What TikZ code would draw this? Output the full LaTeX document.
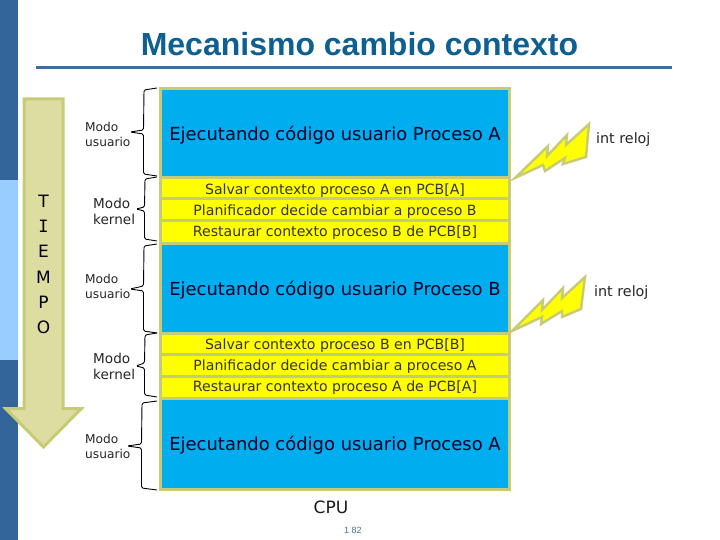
\documentclass[tikz,border=0pt]{standalone}
\usepackage{fontspec}
\setmainfont{DejaVu Sans}
\newfontfamily\arialf{Liberation Sans}
\newfontfamily\monof{DejaVu Sans Mono}
\definecolor{bandD}{HTML}{33659A}
\definecolor{bandL}{HTML}{99CCFF}
\definecolor{rule}{HTML}{3F6F99}
\definecolor{titlec}{HTML}{0F6090}
\definecolor{khaki}{HTML}{C6CB74}
\definecolor{shaft}{HTML}{DDDDA2}
\definecolor{cpuB}{HTML}{00AEEF}
\definecolor{kern}{HTML}{FFFF00}
\tikzset{
  x=1pt,y=-1pt,
  bluebox/.style={fill=cpuB,draw=khaki,line width=3pt},
  yelbox/.style={fill=kern,draw=khaki,line width=3pt},
  runtxt/.style={font=\fontsize{17.95}{20}\selectfont,text=black!85!blue,inner sep=0pt},
  kertxt/.style={font=\fontsize{14.1}{16}\selectfont,text=black!80,inner sep=0pt},
  modetxt/.style={font=\fontsize{12.2}{15}\selectfont,align=left,inner sep=0pt,anchor=west,text=black!85},
  modetxts/.style={font=\fontsize{13.6}{16}\selectfont,align=left,inner sep=0pt,anchor=west,text=black!85},
  tiempo/.style={font=\fontsize{17}{17}\selectfont,inner sep=0pt,text=black},
  brace/.style={draw=black,line width=0.9pt,rounded corners=1.5pt},
  bolt/.style={fill=kern,draw=khaki,line width=2.4pt,line join=miter},
  reloj/.style={font=\fontsize{14.3}{15}\selectfont,inner sep=0pt,anchor=west,text=black!85}
}
\begin{document}
\begin{tikzpicture}
\useasboundingbox (0,0) rectangle (720,540);
\fill[white] (0,0) rectangle (720,540);
\fill[bandD] (0,0) rectangle (18,180);
\fill[bandL] (0,180) rectangle (18,360);
\fill[bandD] (0,360) rectangle (18,540);
\node[font=\arialf\bfseries\fontsize{32}{34}\selectfont,text=titlec,inner sep=0pt] (title) at (359.5,44.5) {Mecanismo cambio contexto};
\fill[rule] (36,66) rectangle (672,69);
% time arrow
\draw[fill=shaft,draw=khaki,line width=3pt,line join=miter]
  (24,99) -- (63,99) -- (63,408.5) -- (81.4,408.5) -- (43.5,447) -- (5.6,408.5) -- (24,408.5) -- cycle;
\node[tiempo] (t1) at (43.5,201) {T};
\node[tiempo,font=\monof\fontsize{17}{17}\selectfont] (t2) at (43.5,226) {I};
\node[tiempo] (t3) at (43.5,251) {E};
\node[tiempo] (t4) at (43.5,277) {M};
\node[tiempo] (t5) at (43.5,302) {P};
\node[tiempo] (t6) at (43.5,327) {O};
% blocks
\path[bluebox] (160.5,88.5) rectangle (509.5,178);
\path[yelbox] (160.5,178) rectangle (509.5,199);
\path[yelbox] (160.5,199) rectangle (509.5,221);
\path[yelbox] (160.5,221) rectangle (509.5,243);
\path[bluebox] (160.5,243) rectangle (509.5,333);
\path[yelbox] (160.5,333) rectangle (509.5,354);
\path[yelbox] (160.5,354) rectangle (509.5,376);
\path[yelbox] (160.5,376) rectangle (509.5,398);
\path[bluebox] (160.5,398) rectangle (509.5,489);
\node[runtxt] (r1) at (335,135.5) {Ejecutando código usuario Proceso A};
\node[kertxt] (k1) at (335,191) {Salvar contexto proceso A en PCB[A]};
\node[kertxt] (k2) at (335,212) {Planificador decide cambiar a proceso B};
\node[kertxt] (k3) at (335,233) {Restaurar contexto proceso B de PCB[B]};
\node[runtxt] (r2) at (335,290.5) {Ejecutando código usuario Proceso B};
\node[kertxt] (k4) at (335,346) {Salvar contexto proceso B en PCB[B]};
\node[kertxt] (k5) at (335,367) {Planificador decide cambiar a proceso A};
\node[kertxt] (k6) at (335,388) {Restaurar contexto proceso A de PCB[A]};
\node[runtxt] (r3) at (335,445.5) {Ejecutando código usuario Proceso A};
% mode labels
\node[modetxt] (m1) at (85,134) {Modo\\usuario};
\node[modetxts] (m2) at (93,211) {Modo\\kernel};
\node[modetxt] (m3) at (85,286.5) {Modo\\usuario};
\node[modetxts] (m4) at (93,366.5) {Modo\\kernel};
\node[modetxt] (m5) at (85,446.5) {Modo\\usuario};
% braces
\draw[brace] (157,88) -- (144,90) -- (143.5,130) -- (130,132) -- (143.5,134) -- (143.5,174) -- (157,176);
\draw[brace] (157,177) -- (145,179) -- (144.5,207) -- (136,209) -- (144.5,211) -- (144.5,239) -- (157,241);
\draw[brace] (157,244) -- (144,246) -- (143.5,286) -- (130,289) -- (143.5,291) -- (143.5,331) -- (157,333);
\draw[brace] (157,333) -- (145,335) -- (144.5,363) -- (136,366) -- (144.5,368) -- (144.5,395) -- (157,397);
\draw[brace] (157,401) -- (142,403) -- (141.5,444) -- (127,446) -- (141.5,448) -- (141.5,488) -- (157,490);
% bolts
\path[bolt] (515,178) -- (548,146) -- (547,156) -- (567,135) -- (566,145) -- (589,124) -- (586,157) -- (563,164) -- (565,158) -- (545,171) -- (543,165) -- cycle;
\path[bolt] (512,331) -- (543,300) -- (542,310) -- (563,288) -- (562,298) -- (585,277) -- (581,309) -- (562,317) -- (562,311) -- (541,324) -- (542,317) -- cycle;
\node[reloj] (i1) at (596,140) {int reloj};
\node[reloj] (i2) at (594,293) {int reloj};
\node[font=\fontsize{17}{19}\selectfont,inner sep=0pt,text=black!90] (cpu) at (331,507) {CPU};
\node[font=\arialf\fontsize{9}{10}\selectfont,inner sep=0pt,text=rule] (pg) at (353,530) {1 82};
\end{tikzpicture}
\end{document}
